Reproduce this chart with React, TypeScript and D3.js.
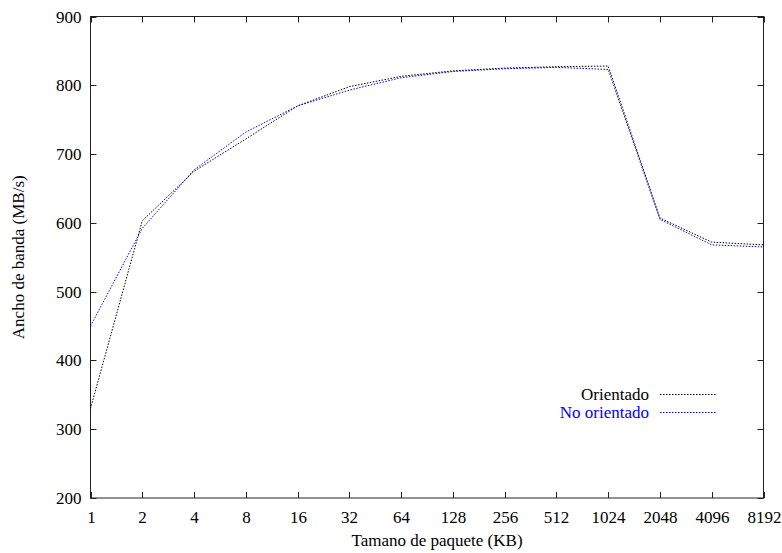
import { useEffect, useRef } from "react";
import * as d3 from "d3";

const sizes = ["1", "2", "4", "8", "16", "32", "64", "128", "256", "512", "1024", "2048", "4096", "8192"];
const orientado = [330, 603, 675, 722, 770, 798, 813, 821, 825, 827, 828, 607, 572, 568];
const noOrientado = [450, 592, 677, 732, 770, 793, 811, 820, 824, 826, 823, 605, 568, 565];
const yTicks = [200, 300, 400, 500, 600, 700, 800, 900];

export default function App() {
  const ref = useRef<SVGSVGElement>(null);

  useEffect(() => {
    const svg = d3.select(ref.current);
    svg.selectAll("*").remove();

    const width = 782;
    const height = 553;
    const margin = { top: 16.5, right: 18.5, bottom: 55, left: 90.5 };

    const x = d3.scalePoint<string>()
      .domain(sizes)
      .range([margin.left, width - margin.right]);

    const y = d3.scaleLinear()
      .domain([200, 900])
      .range([height - margin.bottom, margin.top]);

    const g = svg.append("g").style("font-family", "Liberation Serif, DejaVu Serif, serif");

    // border
    g.append("rect")
      .attr("x", margin.left)
      .attr("y", margin.top)
      .attr("width", width - margin.right - margin.left)
      .attr("height", height - margin.bottom - margin.top)
      .attr("fill", "none")
      .attr("stroke", "#222")
      .attr("stroke-width", 1);

    const tick = 6;
    const bottom = height - margin.bottom;
    const right = width - margin.right;

    // x ticks (mirrored)
    sizes.forEach(s => {
      const px = Math.round(x(s)!) + 0.5;
      g.append("line").attr("x1", px).attr("x2", px).attr("y1", bottom).attr("y2", bottom - tick).attr("stroke", "#222");
      g.append("line").attr("x1", px).attr("x2", px).attr("y1", margin.top).attr("y2", margin.top + tick).attr("stroke", "#222");
      g.append("text")
        .attr("x", px)
        .attr("y", bottom + 25)
        .attr("text-anchor", "middle")
        .attr("font-size", 17)
        .text(s);
    });

    // y ticks (mirrored)
    yTicks.forEach(t => {
      const py = Math.round(y(t)) + 0.5;
      g.append("line").attr("x1", margin.left).attr("x2", margin.left + tick).attr("y1", py).attr("y2", py).attr("stroke", "#222");
      g.append("line").attr("x1", right).attr("x2", right - tick).attr("y1", py).attr("y2", py).attr("stroke", "#222");
      g.append("text")
        .attr("x", margin.left - 9)
        .attr("y", py)
        .attr("text-anchor", "end")
        .attr("dominant-baseline", "central")
        .attr("font-size", 17)
        .text(t);
    });

    const line = d3.line<number>()
      .x((_, i) => x(sizes[i])!)
      .y(d => y(d));

    const series = [
      { name: "Orientado", values: orientado, color: "#000" },
      { name: "No orientado", values: noOrientado, color: "#0000ff" }
    ];

    series.forEach((s, i) => {
      g.append("path")
        .datum(s.values)
        .attr("d", line)
        .attr("fill", "none")
        .attr("stroke", s.color)
        .attr("stroke-width", 1)
        .attr("stroke-dasharray", "1.5,1.5");

      const ly = 394 + i * 18;
      g.append("text")
        .attr("x", 649)
        .attr("y", ly)
        .attr("text-anchor", "end")
        .attr("dominant-baseline", "central")
        .attr("font-size", 17)
        .attr("fill", s.color)
        .text(s.name);
      g.append("line")
        .attr("x1", 660)
        .attr("x2", 716)
        .attr("y1", ly + 0.5)
        .attr("y2", ly + 0.5)
        .attr("stroke", s.color)
        .attr("stroke-dasharray", "1.5,1.5");
    });

    // axis titles
    g.append("text")
      .attr("x", 437)
      .attr("y", height - 7)
      .attr("text-anchor", "middle")
      .attr("font-size", 17)
      .text("Tamano de paquete (KB)");

    g.append("text")
      .attr("transform", `translate(24, ${(margin.top + bottom) / 2}) rotate(-90)`)
      .attr("text-anchor", "middle")
      .attr("font-size", 17)
      .text("Ancho de banda (MB/s)");
  }, []);

  return (
    <svg
      ref={ref}
      width={782}
      height={553}
      style={{ position: "absolute", left: 0, top: 0, background: "#fff" }}
    />
  );
}
